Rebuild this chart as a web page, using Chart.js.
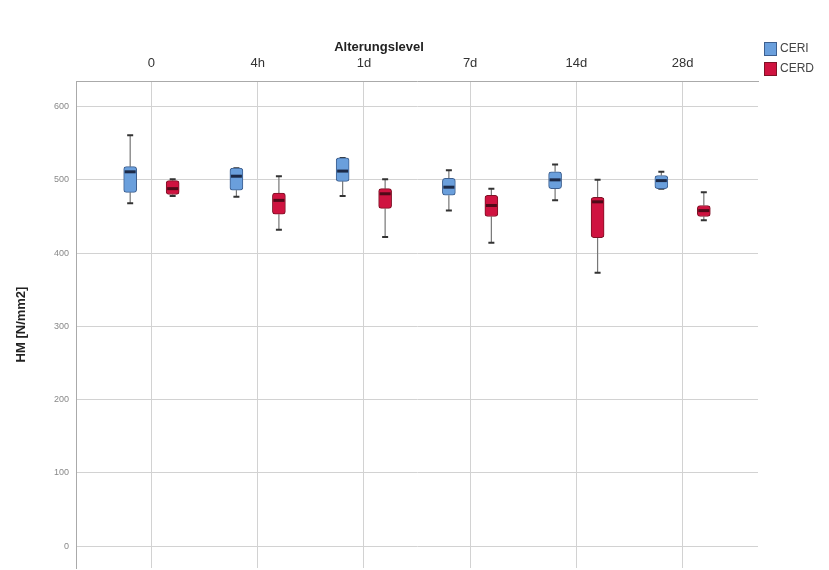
<!DOCTYPE html>
<html lang="de">
<head>
<meta charset="UTF-8">
<title>HM nach Alterungslevel</title>
<script src="https://cdn.jsdelivr.net/npm/chart.js"></script>
<style>
  body { margin: 0; background: #fff; }
</style>
</head>
<body>
<canvas id="boxChart" width="829" height="570"></canvas>
<script>
const categories = ['0', '4h', '1d', '7d', '14d', '28d'];
const yTicks = [0, 100, 200, 300, 400, 500, 600];

// CERI box stats per category
const ceriMin    = [468, 477, 478, 458, 472, 488];
const ceriQ1     = [483, 486, 498, 479, 488, 488];
const ceriMedian = [511, 505, 512, 490, 500, 499];
const ceriQ3     = [518, 516, 530, 502, 511, 506];
const ceriMax    = [561, 516, 530, 513, 521, 511];

// CERD box stats per category
const cerdMin    = [478, 432, 422, 414, 373, 445];
const cerdQ1     = [480, 453, 461, 450, 421, 450];
const cerdMedian = [488, 472, 481, 465, 470, 458];
const cerdQ3     = [499, 482, 488, 479, 476, 465];
const cerdMax    = [501, 505, 501, 488, 500, 483];

Chart.defaults.font.family = "'Liberation Sans Narrow', 'Liberation Sans', Arial, sans-serif";

function boxData(q1, q3, shift) {
    return categories.map((c, i) => ({ x: i + shift, y: [q1[i], q3[i]] }));
}

// whiskers go under the boxes, medians on top
const boxParts = {
    id: 'boxParts',
    beforeDatasetsDraw(chart) {
        const ctx = chart.ctx;
        const yScale = chart.scales.y;
        chart.data.datasets.forEach((ds, di) => {
            const meta = chart.getDatasetMeta(di);
            meta.data.forEach((bar, i) => {
                const x = bar.x;
                const yMax = yScale.getPixelForValue(ds.whiskerMax[i]);
                const yMin = yScale.getPixelForValue(ds.whiskerMin[i]);
                const yQ1 = yScale.getPixelForValue(ds.q1[i]);
                const yQ3 = yScale.getPixelForValue(ds.q3[i]);
                ctx.save();
                ctx.strokeStyle = '#777';
                ctx.lineWidth = 1.2;
                ctx.beginPath();
                ctx.moveTo(x, yQ3); ctx.lineTo(x, yMax);
                ctx.moveTo(x, yQ1); ctx.lineTo(x, yMin);
                ctx.stroke();
                ctx.strokeStyle = '#333';
                ctx.lineWidth = 2;
                ctx.beginPath();
                ctx.moveTo(x - 3, yMax); ctx.lineTo(x + 3, yMax);
                ctx.moveTo(x - 3, yMin); ctx.lineTo(x + 3, yMin);
                ctx.stroke();
                ctx.restore();
            });
        });
    },
    afterDatasetsDraw(chart) {
        const ctx = chart.ctx;
        const yScale = chart.scales.y;
        chart.data.datasets.forEach((ds, di) => {
            const meta = chart.getDatasetMeta(di);
            meta.data.forEach((bar, i) => {
                const yMed = yScale.getPixelForValue(ds.median[i]);
                ctx.save();
                ctx.fillStyle = ds.medianColor;
                ctx.fillRect(bar.x - bar.width / 2 + 1, yMed - 1.5, bar.width - 2, 3);
                ctx.restore();
            });
        });
    }
};

const sideLegend = {
    id: 'sideLegend',
    afterDraw(chart) {
        const ctx = chart.ctx;
        chart.data.datasets.forEach((ds, di) => {
            const top = 42 + di * 20;
            ctx.save();
            ctx.fillStyle = ds.backgroundColor;
            ctx.strokeStyle = ds.borderColor;
            ctx.lineWidth = 1;
            ctx.fillRect(764.5, top + 0.5, 12, 13);
            ctx.strokeRect(764.5, top + 0.5, 12, 13);
            ctx.fillStyle = '#444';
            ctx.font = "12px 'Liberation Sans Narrow', 'Liberation Sans', Arial, sans-serif";
            ctx.textBaseline = 'middle';
            ctx.fillText(ds.label, 780, top + 7);
            ctx.restore();
        });
    }
};

const ctx = document.getElementById('boxChart').getContext('2d');
new Chart(ctx, {
    type: 'bar',
    data: {
        datasets: [{
            label: 'CERI',
            data: boxData(ceriQ1, ceriQ3, -0.2),
            q1: ceriQ1, q3: ceriQ3, median: ceriMedian,
            whiskerMin: ceriMin, whiskerMax: ceriMax,
            backgroundColor: '#6a9fdc',
            borderColor: '#3d5f8f',
            medianColor: '#1c2a48'
        }, {
            label: 'CERD',
            data: boxData(cerdQ1, cerdQ3, 0.2),
            q1: cerdQ1, q3: cerdQ3, median: cerdMedian,
            whiskerMin: cerdMin, whiskerMax: cerdMax,
            backgroundColor: '#cf1340',
            borderColor: '#7f1226',
            medianColor: '#4f0a18'
        }]
    },
    options: {
        responsive: false,
        animation: false,
        datasets: {
            bar: {
                grouped: false,
                barThickness: 13,
                borderWidth: 1,
                borderRadius: 3,
                borderSkipped: false
            }
        },
        layout: {
            padding: { left: 0, right: 71, top: 0, bottom: 2 }
        },
        scales: {
            x: {
                type: 'linear',
                position: 'top',
                min: -0.71,
                max: 5.71,
                offset: false,
                afterBuildTicks: s => { s.ticks = categories.map((c, i) => ({ value: i })); },
                afterFit: s => { s.height = 25.4; s.paddingLeft = 0; s.paddingRight = 0; },
                ticks: {
                    padding: 10,
                    color: '#333',
                    font: { size: 13 },
                    callback: v => categories[v]
                },
                grid: { color: '#d2d2d2', drawTicks: false, offset: false },
                border: { color: '#aaa' }
            },
            y: {
                min: -30,
                max: 635,
                afterBuildTicks: s => { s.ticks = yTicks.map(v => ({ value: v })); },
                afterFit: s => { s.width = 76; s.paddingTop = 0; s.paddingBottom = 0; },
                ticks: {
                    padding: 7,
                    color: '#888',
                    font: { size: 9 }
                },
                grid: { color: '#d2d2d2', drawTicks: false },
                border: { color: '#aaa' },
                title: {
                    display: true,
                    text: 'HM [N/mm2]',
                    color: '#222',
                    font: { size: 13, weight: 'bold' },
                    padding: { top: 14, bottom: 0 }
                }
            }
        },
        plugins: {
            title: {
                display: true,
                text: 'Alterungslevel',
                color: '#222',
                font: { size: 13, weight: 'bold' },
                padding: { top: 40, bottom: 0 }
            },
            legend: { display: false },
            tooltip: {
                callbacks: {
                    label: function(context) {
                        const ds = context.dataset;
                        const i = context.dataIndex;
                        return ds.label + ': ' + ds.whiskerMin[i] + ' / ' + ds.q1[i] + ' / ' +
                            ds.median[i] + ' / ' + ds.q3[i] + ' / ' + ds.whiskerMax[i];
                    }
                }
            }
        }
    },
    plugins: [boxParts, sideLegend]
});
</script>
</body>
</html>
